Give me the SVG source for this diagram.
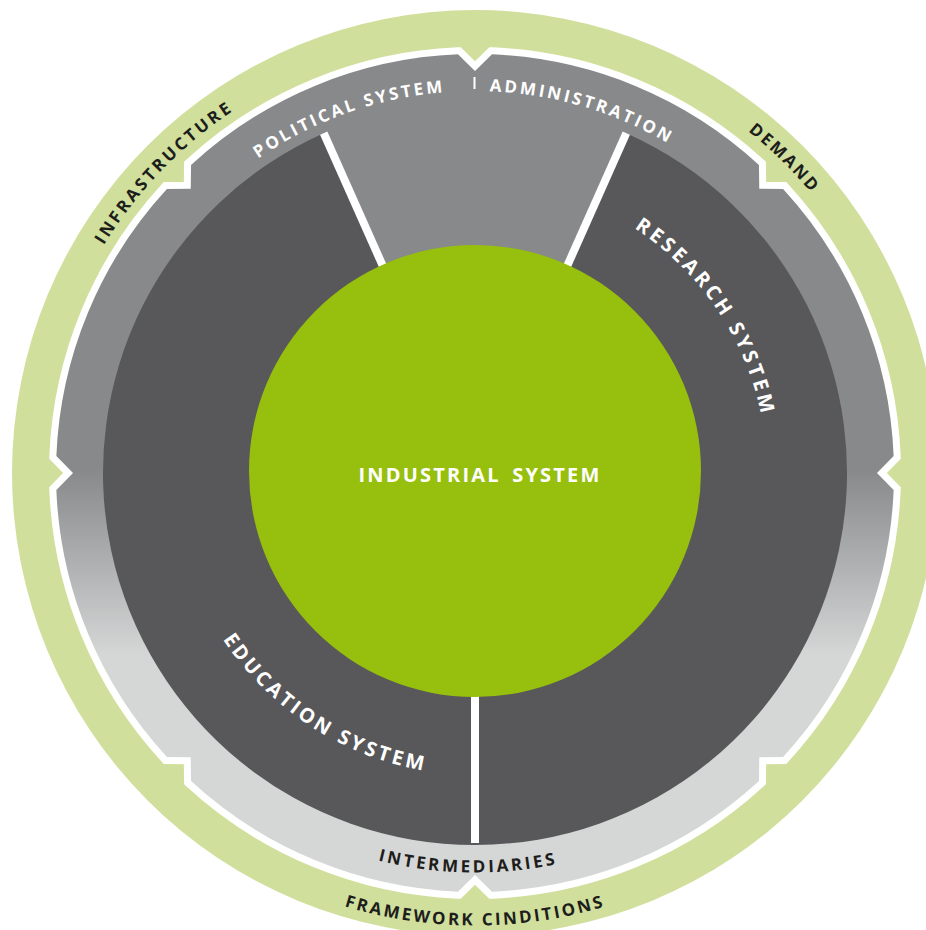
<svg xmlns="http://www.w3.org/2000/svg" width="926" height="930" viewBox="0 0 926 930">
<defs>
<style>
.lbl{font-family:"Open Sans","Noto Sans","Liberation Sans",sans-serif;font-weight:700;}
.w{fill:#ffffff;}
.d{fill:#1d1d1b;}
.bar{stroke:#ffffff;stroke-width:8;stroke-linecap:butt;fill:none;}
</style>
<linearGradient id="grayGrad" gradientUnits="userSpaceOnUse" x1="0" y1="470" x2="0" y2="655">
<stop offset="0" stop-color="#88898b"/>
<stop offset="1" stop-color="#d5d6d6"/>
</linearGradient>
<path id="pResearch" d="M356.23,206.24 A292,292 0 0 1 677.84,683.05"/>
<path id="pEducation" d="M197.00,355.00 A302,302 0 0 0 695.87,678.96"/>
<path id="pPolitical" d="M98.24,536.05 A382,382 0 0 1 807.48,284.90"/>
<path id="pAdmin" d="M132.84,303.15 A382,382 0 0 1 854.62,515.58"/>
<path id="pInfra" d="M122.67,728.98 A435.5,435.5 0 0 1 718.53,111.95"/>
<path id="pDemand" d="M220.94,116.82 A437.5,437.5 0 0 1 835.56,720.80"/>
<path id="pFrame" d="M29.37,551.58 A452.5,452.5 0 0 0 920.63,551.58"/>
<path id="pInter" d="M80.42,535.49 A399.5,399.5 0 0 0 867.16,549.23"/>
</defs>
<rect width="926" height="930" fill="#ffffff"/>

<g id="framework-ring">
<circle cx="475" cy="473" r="463" fill="#d0df9c"/>
<text class="lbl d" font-size="17" letter-spacing="2.9"><textPath href="#pInfra" startOffset="50%" text-anchor="middle">INFRASTRUCTURE</textPath></text>
<text class="lbl d" font-size="17" letter-spacing="2.3"><textPath href="#pDemand" startOffset="50%" text-anchor="middle">DEMAND</textPath></text>
<text class="lbl d" font-size="17" letter-spacing="2.5"><textPath href="#pFrame" startOffset="50%" text-anchor="middle">FRAMEWORK CINDITIONS</textPath></text>
</g>

<g id="governance-ring">
<path d="M492.04,54.35 A419,419 0 0 1 758.97,164.90 L759.26,188.74 L783.10,189.03 A419,419 0 0 1 893.65,455.96 L877,473 L893.65,490.04 A419,419 0 0 1 783.10,756.97 L759.26,757.26 L758.97,781.10 A419,419 0 0 1 492.04,891.65 L475,875 L457.96,891.65 A419,419 0 0 1 191.03,781.10 L190.74,757.26 L166.90,756.97 A419,419 0 0 1 56.35,490.04 L73,473 L56.35,455.96 A419,419 0 0 1 166.90,189.03 L190.74,188.74 L191.03,164.90 A419,419 0 0 1 457.96,54.35 L475,71 Z" fill="url(#grayGrad)" stroke="#ffffff" stroke-width="14" stroke-linejoin="miter" stroke-miterlimit="10" paint-order="stroke"/>
<line x1="474.5" y1="77" x2="474.5" y2="89" stroke="#ffffff" stroke-width="2"/>
<text class="lbl w" font-size="17" font-weight="600" letter-spacing="2.8"><textPath href="#pPolitical" startOffset="50%" text-anchor="middle">POLITICAL SYSTEM</textPath></text>
<text class="lbl w" font-size="17" font-weight="600" letter-spacing="2.8"><textPath href="#pAdmin" startOffset="50%" text-anchor="middle">ADMINISTRATION</textPath></text>
<text class="lbl d" font-size="17" letter-spacing="2.9"><textPath href="#pInter" startOffset="50%" text-anchor="middle">INTERMEDIARIES</textPath></text>
</g>

<g id="research-system">
<path d="M475,473 L626.31,133.16 A372,372 0 0 1 475,845 Z" fill="#58585a"/>
<text class="lbl w" font-size="20" letter-spacing="3.4"><textPath href="#pResearch" startOffset="50%" text-anchor="middle">RESEARCH SYSTEM</textPath></text>
</g>

<g id="education-system">
<path d="M475,473 L475,845 A372,372 0 0 1 323.69,133.16 Z" fill="#58585a"/>
<text class="lbl w" font-size="20" letter-spacing="3.1"><textPath href="#pEducation" startOffset="50%" text-anchor="middle">EDUCATION SYSTEM</textPath></text>
</g>

<g id="connectors">
<line class="bar" x1="393.65" y1="290.29" x2="323.69" y2="133.16"/>
<line class="bar" x1="556.35" y1="290.29" x2="626.31" y2="133.16"/>
<line class="bar" x1="475" y1="690" x2="475" y2="843"/>
</g>

<g id="industrial-system">
<circle cx="475" cy="471" r="226" fill="#97bf0d"/>
<text class="lbl w" x="480" y="482" font-size="20" letter-spacing="2.2" word-spacing="4" text-anchor="middle">INDUSTRIAL SYSTEM</text>
</g>
</svg>
